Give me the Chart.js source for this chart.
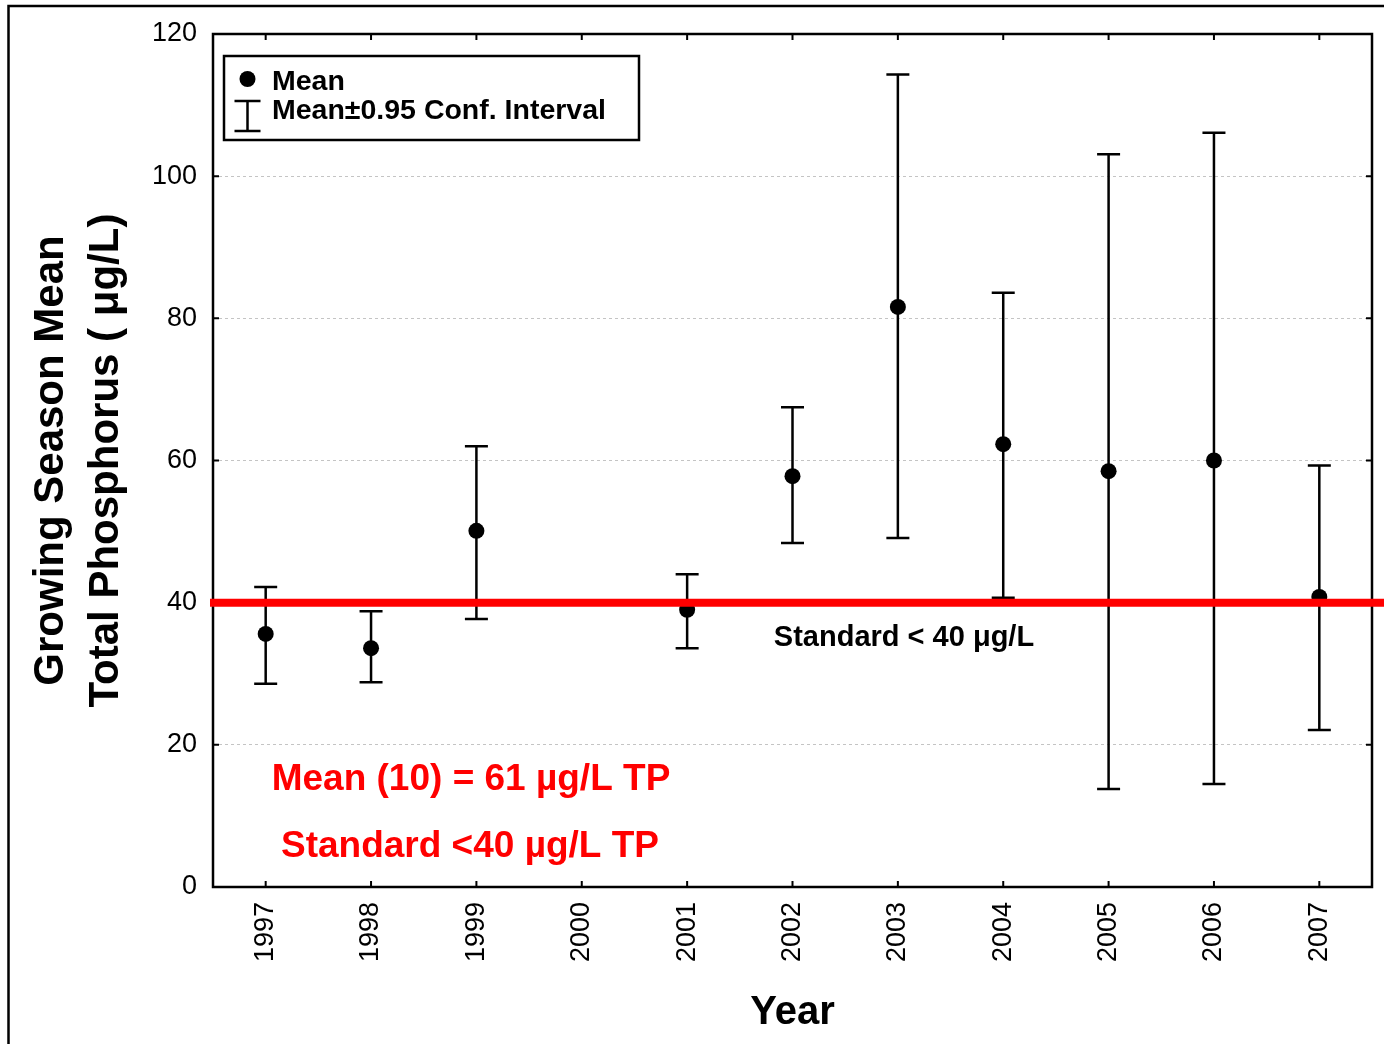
<!DOCTYPE html>
<html>
<head>
<meta charset="utf-8">
<title>Growing Season Mean Total Phosphorus</title>
<script src="https://cdn.jsdelivr.net/npm/chart.js@4.4.1/dist/chart.umd.min.js"></script>
<style>
  html, body { margin: 0; padding: 0; background: #fff; }
  #wrap { width: 1384px; height: 1044px; position: relative; }
</style>
</head>
<body>
<div id="wrap"><canvas id="tpChart" width="1384" height="1044"></canvas></div>
<script>
// values (ug/L), 2000 has no sample
const years = ['1997', '1998', '1999', '2000', '2001', '2002', '2003', '2004', '2005', '2006', '2007'];
const meanTP = [35.6, 33.6, 50.1, null, 39.0, 57.8, 81.6, 62.3, 58.5, 60.0, 40.8];
const ciUpper = [42.2, 38.8, 62.0, null, 44.0, 67.5, 114.3, 83.6, 103.1, 106.1, 59.3];
const ciLower = [28.6, 28.8, 37.7, null, 33.6, 48.4, 49.1, 40.7, 13.8, 14.5, 22.1];
const yTicks = [0, 20, 40, 60, 80, 100, 120];
const standardTP = 40;

const FONT = "'Liberation Sans', Arial, sans-serif";
Chart.defaults.font.family = FONT;
Chart.defaults.color = '#000';

// outer frame of the figure (only top and left are inside the picture)
const framePlugin = {
    id: 'frame',
    beforeDraw(chart) {
        const ctx = chart.ctx;
        ctx.save();
        ctx.fillStyle = '#fff';
        ctx.fillRect(0, 0, chart.width, chart.height);
        ctx.strokeStyle = '#000';
        ctx.lineWidth = 2.5;
        ctx.beginPath();
        ctx.moveTo(chart.width, 6);
        ctx.lineTo(8.5, 6);
        ctx.lineTo(8.5, chart.height);
        ctx.stroke();
        ctx.restore();
    }
};

// whiskers for the 0.95 confidence interval
const errorBarPlugin = {
    id: 'errorBars',
    beforeDatasetsDraw(chart) {
        const ctx = chart.ctx;
        const xs = chart.scales.x, ys = chart.scales.y;
        ctx.save();
        ctx.strokeStyle = '#000';
        ctx.lineWidth = 2.5;
        ciUpper.forEach((hi, i) => {
            if (hi == null) return;
            const x = xs.getPixelForValue(i);
            const yH = ys.getPixelForValue(hi);
            const yL = ys.getPixelForValue(ciLower[i]);
            ctx.beginPath();
            ctx.moveTo(x, yH); ctx.lineTo(x, yL);
            ctx.moveTo(x - 11.5, yH); ctx.lineTo(x + 11.5, yH);
            ctx.moveTo(x - 11.5, yL); ctx.lineTo(x + 11.5, yL);
            ctx.stroke();
        });
        ctx.restore();
    }
};

// plot box, inward ticks, standard line, notes and legend
const overlayPlugin = {
    id: 'overlay',
    afterDatasetsDraw(chart) {
        const ctx = chart.ctx;
        const a = chart.chartArea;
        const xs = chart.scales.x, ys = chart.scales.y;
        ctx.save();

        ctx.strokeStyle = '#000';
        ctx.lineWidth = 2.5;
        ctx.strokeRect(a.left, a.top, a.right - a.left, a.bottom - a.top);

        ctx.lineWidth = 2;
        ctx.beginPath();
        yTicks.forEach(v => {
            const y = ys.getPixelForValue(v);
            ctx.moveTo(a.left, y); ctx.lineTo(a.left + 6, y);
            ctx.moveTo(a.right, y); ctx.lineTo(a.right - 6, y);
        });
        years.forEach((yr, i) => {
            const x = xs.getPixelForValue(i);
            ctx.moveTo(x, a.top); ctx.lineTo(x, a.top + 6);
            ctx.moveTo(x, a.bottom); ctx.lineTo(x, a.bottom - 6);
        });
        ctx.stroke();

        // standard line runs past the right edge of the plot
        const yStd = ys.getPixelForValue(standardTP);
        ctx.strokeStyle = '#ff0000';
        ctx.lineWidth = 8;
        ctx.beginPath();
        ctx.moveTo(a.left - 3, yStd);
        ctx.lineTo(chart.width, yStd);
        ctx.stroke();

        ctx.textBaseline = 'alphabetic';
        ctx.textAlign = 'center';
        ctx.fillStyle = '#000';
        ctx.font = 'bold 29px ' + FONT;
        ctx.fillText('Standard < 40 \u03bcg/L', 904, 646);

        ctx.fillStyle = '#ff0000';
        ctx.font = 'bold 37px ' + FONT;
        ctx.fillText('Mean (10) = 61 \u00b5g/L TP', 471, 790);
        ctx.fillText('Standard <40 \u00b5g/L TP', 470, 857);

        // legend
        ctx.fillStyle = '#fff';
        ctx.fillRect(224, 56, 415, 84);
        ctx.strokeStyle = '#000';
        ctx.lineWidth = 2.5;
        ctx.strokeRect(224, 56, 415, 84);
        ctx.fillStyle = '#000';
        ctx.beginPath();
        ctx.arc(247.5, 79, 8, 0, Math.PI * 2);
        ctx.fill();
        ctx.lineWidth = 2.5;
        ctx.beginPath();
        ctx.moveTo(247.5, 101); ctx.lineTo(247.5, 131);
        ctx.moveTo(234.5, 101); ctx.lineTo(260.5, 101);
        ctx.moveTo(234.5, 131); ctx.lineTo(260.5, 131);
        ctx.stroke();
        ctx.textAlign = 'left';
        ctx.font = 'bold 28.5px ' + FONT;
        ctx.fillText('Mean', 272, 90);
        ctx.fillText('Mean\u00b10.95 Conf. Interval', 272, 119);

        ctx.restore();
    }
};

const chart = new Chart(document.getElementById('tpChart'), {
    type: 'line',
    data: {
        labels: years,
        datasets: [{
            label: 'Mean',
            data: meanTP,
            showLine: false,
            pointRadius: 8,
            pointHoverRadius: 8,
            pointBackgroundColor: '#000',
            pointBorderColor: '#000',
            pointBorderWidth: 0
        }]
    },
    options: {
        responsive: false,
        animation: false,
        devicePixelRatio: 1,
        layout: { padding: { left: 0, right: 12, top: 34, bottom: 0 } },
        plugins: {
            legend: { display: false },
            tooltip: { enabled: false }
        },
        scales: {
            x: {
                type: 'category',
                offset: true,
                grid: { display: false },
                border: { display: false },
                ticks: {
                    autoSkip: false,
                    minRotation: 90,
                    maxRotation: 90,
                    padding: 7,
                    font: { size: 27 },
                    color: '#000'
                },
                title: {
                    display: true,
                    text: 'Year',
                    font: { size: 40, weight: 'bold' },
                    color: '#000',
                    padding: { top: 0, bottom: 7 }
                },
                afterFit(scale) { scale.height = 157; }
            },
            y: {
                min: 0,
                max: 120,
                afterBuildTicks(scale) { scale.ticks = yTicks.map(v => ({ value: v })); },
                grid: {
                    drawTicks: false,
                    color: ctx => (ctx.tick && (ctx.tick.value === 0 || ctx.tick.value === 120)) ? 'rgba(0,0,0,0)' : '#c4c4c4',
                    lineWidth: 1
                },
                border: { display: false, dash: [3, 3] },
                ticks: {
                    padding: 16,
                    font: { size: 27 },
                    color: '#000'
                },
                title: {
                    display: true,
                    text: ['Growing Season Mean', 'Total Phosphorus ( \u03bcg/L)'],
                    font: { size: 42, weight: 'bold', lineHeight: 1.31 },
                    color: '#000',
                    padding: { top: 24, bottom: 0 }
                },
                afterFit(scale) { scale.width = 213; }
            }
        }
    },
    plugins: [framePlugin, errorBarPlugin, overlayPlugin]
});
</script>
</body>
</html>
